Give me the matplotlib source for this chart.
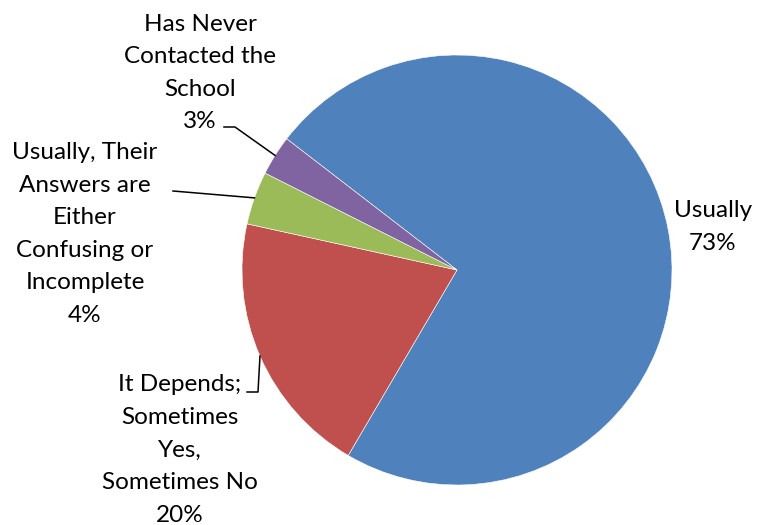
import numpy as np
import matplotlib
matplotlib.use("Agg")
import matplotlib.pyplot as plt

# survey responses, clockwise from the top-left
categories = ["Usually",
              "It Depends;\nSometimes\nYes,\nSometimes No",
              "Usually, Their\nAnswers are\nEither\nConfusing or\nIncomplete",
              "Has Never\nContacted the\nSchool"]
shares = [73, 20, 4, 3]
colors = ["#4F81BD", "#C0504D", "#9BBB59", "#8064A2"]

W, H = 763, 525
CX, CY, R = 457, 270, 215


def px(x, y):
    """pixel position -> data coords (pie centre at origin, radius 1)"""
    return (x - CX) / R, (CY - y) / R


fig = plt.figure(figsize=(W / 100, H / 100), dpi=100)
ax = fig.add_axes([0, 0, 1, 1])

wedges, _ = ax.pie(shares, colors=colors, startangle=142.4, counterclock=False,
                   radius=1, center=(0, 0), frame=True,
                   wedgeprops=dict(edgecolor="white", linewidth=0.4))
ax.set_xlim(-CX / R, (W - CX) / R)
ax.set_ylim((CY - H) / R, CY / R)
ax.set_aspect("equal")
ax.axis("off")

font = dict(family="Lato", fontsize=17.5, color="black", ha="center", va="center",
            linespacing=1.68)

# label centres and leader elbows (pixel positions)
label_pos = [(713, 227), (180, 450), (85, 234), (200, 73)]
elbows = [None,
          [(247, 392), (258, 392)],
          [(173, 191)],
          [(224, 127), (235, 127)]]

for w, cat, pct, pos, elb in zip(wedges, categories, shares, label_pos, elbows):
    ax.text(*px(*pos), f"{cat}\n{pct}%", **font)
    if elb is None:
        continue
    mid = np.deg2rad((w.theta1 + w.theta2) / 2)
    pts = [px(*p) for p in elb] + [(np.cos(mid), np.sin(mid))]
    xs, ys = zip(*pts)
    ax.plot(xs, ys, color="black", lw=1.1)

fig.savefig("out.png", dpi=100)
